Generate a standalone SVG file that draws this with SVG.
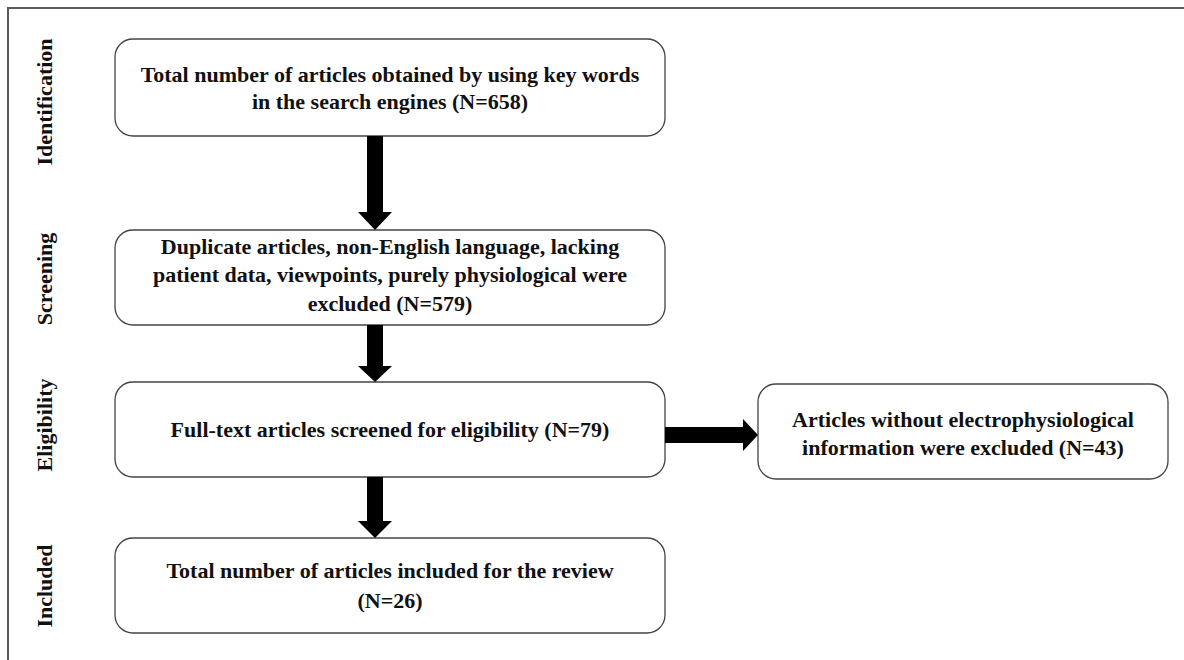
<svg xmlns="http://www.w3.org/2000/svg" width="1184" height="660" viewBox="0 0 1184 660">
<style>
.box{fill:#fff;stroke:#444;stroke-width:1.3}
.t{font-family:"Liberation Serif","Times New Roman",serif;font-weight:bold;font-size:22px;fill:#111;text-anchor:middle}
.arr{fill:#000}
</style>
<rect width="1184" height="660" fill="#fff"/>
<path d="M8,660 V8 H1184" fill="none" stroke="#5a5a5a" stroke-width="2"/>
<g id="labels">
<text class="t" transform="translate(52,102) rotate(-90)">Identification</text>
<text class="t" transform="translate(52,279) rotate(-90)">Screening</text>
<text class="t" transform="translate(52,425) rotate(-90)">Eligibility</text>
<text class="t" transform="translate(52,586) rotate(-90)">Included</text>
</g>
<g id="n1">
<rect class="box" x="115" y="39" width="550" height="97" rx="18"/>
<text class="t" x="390" y="82">Total number of articles obtained by using key words</text>
<text class="t" x="390" y="109">in the search engines (N=658)</text>
</g>
<g id="n2">
<rect class="box" x="115" y="230" width="550" height="95" rx="18"/>
<text class="t" x="390" y="254">Duplicate articles, non-English language, lacking</text>
<text class="t" x="390" y="282">patient data, viewpoints, purely physiological were</text>
<text class="t" x="390" y="311">excluded (N=579)</text>
</g>
<g id="n3">
<rect class="box" x="115" y="382" width="550" height="95" rx="18"/>
<text class="t" x="390" y="437">Full-text articles screened for eligibility (N=79)</text>
</g>
<g id="n4">
<rect class="box" x="115" y="538" width="550" height="95" rx="18"/>
<text class="t" x="390" y="578">Total number of articles included for the review</text>
<text class="t" x="390" y="608">(N=26)</text>
</g>
<g id="n5">
<rect class="box" x="758" y="384" width="410" height="95" rx="18"/>
<text class="t" x="963" y="427">Articles without electrophysiological</text>
<text class="t" x="963" y="455">information were excluded (N=43)</text>
</g>
<g id="connectors">
<polygon class="arr" points="367,136 383,136 383,212 392,212 375,230 358,212 367,212"/>
<polygon class="arr" points="367,325 383,325 383,366 392,366 375,382 358,366 367,366"/>
<polygon class="arr" points="367,477 383,477 383,521 392,521 375,538 358,521 367,521"/>
<polygon class="arr" points="665,427 743,427 743,419 758,435 743,451 743,443 665,443"/>
</g>
</svg>
